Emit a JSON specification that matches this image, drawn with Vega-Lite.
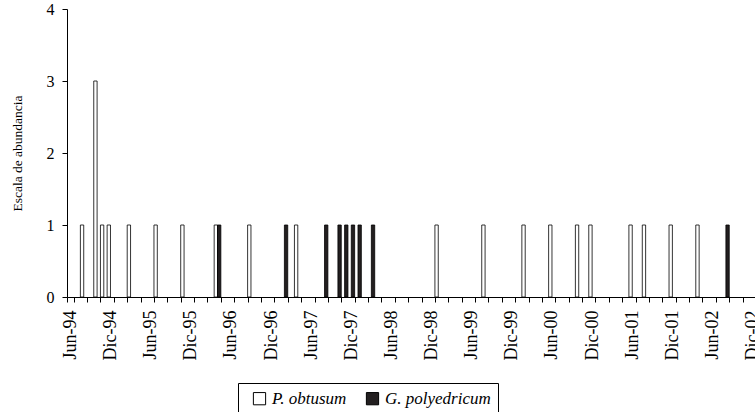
{
  "$schema": "https://vega.github.io/schema/vega-lite/v6.json",
  "autosize": {"type": "none"},
  "padding": {"left": 67, "top": 9, "right": 0, "bottom": 115},
  "width": 689,
  "height": 288,
  "background": "white",
  "config": {
    "view": {"stroke": null},
    "font": "Liberation Serif",
    "axis": {"domainColor": "black", "tickColor": "black", "labelColor": "black", "titleColor": "black", "grid": false, "labelFont": "Liberation Serif", "titleFont": "Liberation Serif", "titleFontWeight": "normal", "domainWidth": 1, "tickWidth": 1}
  },
  "data": {
    "values": [
      {"mes": "Ago-94", "especie": "P. obtusum", "abundancia": 1},
      {"mes": "Oct-94", "especie": "P. obtusum", "abundancia": 3},
      {"mes": "Nov-94", "especie": "P. obtusum", "abundancia": 1},
      {"mes": "Dic-94", "especie": "P. obtusum", "abundancia": 1},
      {"mes": "Mar-95", "especie": "P. obtusum", "abundancia": 1},
      {"mes": "Jul-95", "especie": "P. obtusum", "abundancia": 1},
      {"mes": "Nov-95", "especie": "P. obtusum", "abundancia": 1},
      {"mes": "Abr-96", "especie": "P. obtusum", "abundancia": 1},
      {"mes": "Abr-96", "especie": "G. polyedricum", "abundancia": 1},
      {"mes": "Sep-96", "especie": "P. obtusum", "abundancia": 1},
      {"mes": "Feb-97", "especie": "G. polyedricum", "abundancia": 1},
      {"mes": "Abr-97", "especie": "P. obtusum", "abundancia": 1},
      {"mes": "Ago-97", "especie": "G. polyedricum", "abundancia": 1},
      {"mes": "Oct-97", "especie": "G. polyedricum", "abundancia": 1},
      {"mes": "Nov-97", "especie": "G. polyedricum", "abundancia": 1},
      {"mes": "Dic-97", "especie": "G. polyedricum", "abundancia": 1},
      {"mes": "Ene-98", "especie": "G. polyedricum", "abundancia": 1},
      {"mes": "Mar-98", "especie": "G. polyedricum", "abundancia": 1},
      {"mes": "Ene-99", "especie": "P. obtusum", "abundancia": 1},
      {"mes": "Ago-99", "especie": "P. obtusum", "abundancia": 1},
      {"mes": "Feb-00", "especie": "P. obtusum", "abundancia": 1},
      {"mes": "Jun-00", "especie": "P. obtusum", "abundancia": 1},
      {"mes": "Oct-00", "especie": "P. obtusum", "abundancia": 1},
      {"mes": "Dic-00", "especie": "P. obtusum", "abundancia": 1},
      {"mes": "Jun-01", "especie": "P. obtusum", "abundancia": 1},
      {"mes": "Ago-01", "especie": "P. obtusum", "abundancia": 1},
      {"mes": "Dic-01", "especie": "P. obtusum", "abundancia": 1},
      {"mes": "Abr-02", "especie": "P. obtusum", "abundancia": 1},
      {"mes": "Ago-02", "especie": "G. polyedricum", "abundancia": 1}
    ]
  },
  "mark": {"type": "bar", "stroke": "black", "strokeWidth": 0.8},
  "encoding": {
    "x": {
      "field": "mes",
      "type": "ordinal",
      "scale": {
        "paddingInner": 0,
        "paddingOuter": 0,
        "domain": ["Jun-94","Jul-94","Ago-94","Sep-94","Oct-94","Nov-94","Dic-94",
          "Ene-95","Feb-95","Mar-95","Abr-95","May-95","Jun-95","Jul-95","Ago-95","Sep-95","Oct-95","Nov-95","Dic-95",
          "Ene-96","Feb-96","Mar-96","Abr-96","May-96","Jun-96","Jul-96","Ago-96","Sep-96","Oct-96","Nov-96","Dic-96",
          "Ene-97","Feb-97","Mar-97","Abr-97","May-97","Jun-97","Jul-97","Ago-97","Sep-97","Oct-97","Nov-97","Dic-97",
          "Ene-98","Feb-98","Mar-98","Abr-98","May-98","Jun-98","Jul-98","Ago-98","Sep-98","Oct-98","Nov-98","Dic-98",
          "Ene-99","Feb-99","Mar-99","Abr-99","May-99","Jun-99","Jul-99","Ago-99","Sep-99","Oct-99","Nov-99","Dic-99",
          "Ene-00","Feb-00","Mar-00","Abr-00","May-00","Jun-00","Jul-00","Ago-00","Sep-00","Oct-00","Nov-00","Dic-00",
          "Ene-01","Feb-01","Mar-01","Abr-01","May-01","Jun-01","Jul-01","Ago-01","Sep-01","Oct-01","Nov-01","Dic-01",
          "Ene-02","Feb-02","Mar-02","Abr-02","May-02","Jun-02","Jul-02","Ago-02","Sep-02","Oct-02","Nov-02","Dic-02"]
      },
      "axis": {
        "title": null,
        "values": ["Jun-94","Ago-94","Oct-94","Dic-94",
          "Feb-95","Abr-95","Jun-95","Ago-95","Oct-95","Dic-95",
          "Feb-96","Abr-96","Jun-96","Ago-96","Oct-96","Dic-96",
          "Feb-97","Abr-97","Jun-97","Ago-97","Oct-97","Dic-97",
          "Feb-98","Abr-98","Jun-98","Ago-98","Oct-98","Dic-98",
          "Feb-99","Abr-99","Jun-99","Ago-99","Oct-99","Dic-99",
          "Feb-00","Abr-00","Jun-00","Ago-00","Oct-00","Dic-00",
          "Feb-01","Abr-01","Jun-01","Ago-01","Oct-01","Dic-01",
          "Feb-02","Abr-02","Jun-02","Ago-02","Oct-02","Dic-02"],
        "labelExpr": "indexof(datum.label, 'Jun') == 0 || indexof(datum.label, 'Dic') == 0 ? datum.label : ''",
        "tickBand": "extent",
        "labelAngle": -90,
        "labelFontSize": 18,
        "labelPadding": 8,
        "tickSize": 5,
        "labelOverlap": false,
        "labelBound": false
      }
    },
    "xOffset": {
      "field": "especie",
      "type": "nominal",
      "scale": {"domain": ["P. obtusum", "G. polyedricum"], "paddingInner": 0, "paddingOuter": 0}
    },
    "y": {
      "field": "abundancia",
      "type": "quantitative",
      "scale": {"domain": [0, 4]},
      "axis": {
        "values": [0, 1, 2, 3, 4],
        "title": "Escala de abundancia",
        "titleFontSize": 13.5,
        "titlePadding": 22,
        "labelFontSize": 16,
        "labelPadding": 8,
        "tickSize": 5
      }
    },
    "fill": {
      "field": "especie",
      "type": "nominal",
      "scale": {"domain": ["P. obtusum", "G. polyedricum"], "range": ["white", "#231f20"]},
      "legend": {
        "title": null,
        "orient": "none",
        "legendX": 171,
        "legendY": 374,
        "direction": "horizontal",
        "strokeColor": "black",
        "padding": 7,
        "symbolType": "square",
        "symbolSize": 150,
        "symbolStrokeColor": "black",
        "symbolStrokeWidth": 1,
        "symbolOffset": 6,
        "labelFont": "Liberation Serif",
        "labelFontStyle": "italic",
        "labelFontSize": 17,
        "labelColor": "black",
        "labelOffset": 4,
        "columnPadding": 11,
        "labelLimit": 300
      }
    }
  }
}
